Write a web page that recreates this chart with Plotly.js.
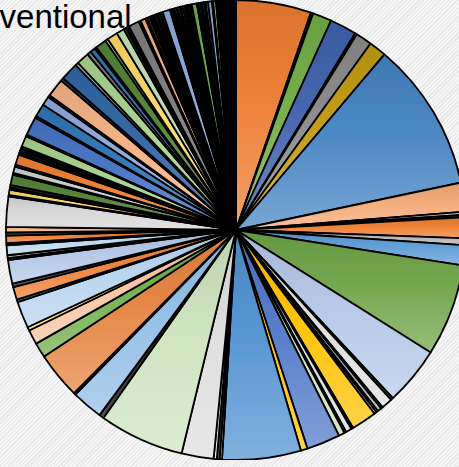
<!DOCTYPE html>
<html>
<head>
<meta charset="utf-8">
<script src="https://cdn.plot.ly/plotly-3.0.1.min.js"></script>
<style>
  html, body { margin: 0; padding: 0; width: 459px; height: 467px; overflow: hidden; }
  body {
    background: repeating-linear-gradient(135deg, #f5f5f5 0px, #f5f5f5 2px, #e6e6e6 2px, #e6e6e6 3px);
  }
  #chart { width: 472px; height: 460px; }
</style>
</head>
<body>
<div id="chart"></div>
<script>
// Slice shares, clockwise from 12 o'clock
const shares = [
  19.0, 0.6, 4.8, 6.8, 0.5, 4.1, 4.4, 37.9, 7.3, 0.8,
  0.6, 5.3, 1.7, 5.1, 23.3, 14.8, 0.6, 2.8, 0.5, 1.0,
  0.5, 0.6, 6.4, 0.5, 1.5, 0.5, 1.5, 8.5, 1.7, 19.9,
  0.6, 0.7, 0.8, 8.1, 21.5, 1.2, 7.9, 0.5, 11.8, 3.8,
  3.7, 0.9, 6.7, 0.7, 3.2, 0.9, 6.0, 0.5, 0.7, 2.5,
  0.5, 1.9, 0.8, 1.4, 7.6, 0.4, 1.3, 0.4, 0.8, 2.6,
  0.5, 1.6, 0.5, 2.6, 0.5, 0.6, 0.6, 0.5, 2.8, 0.4,
  4.7, 0.5, 3.3, 2.3, 0.6, 4.6, 0.8, 4.5, 0.8, 3.2,
  1.0, 1.3, 0.5, 2.8, 0.7, 2.7, 2.0, 0.6, 0.45, 0.45,
  2.7, 0.5, 1.3, 0.5, 0.6,
  0.4, 0.5, 0.4, 0.5, 0.4, 0.5, 0.3, 0.5,
  1.9,
  0.4, 0.4, 0.4,
  0.5, 0.3, 0.5, 0.3, 0.5, 0.5,
  0.4, 0.4, 0.5, 0.5,
  1.3,
  0.4, 0.5, 0.4, 0.5, 0.4, 0.6,
  1.0, 0.3, 0.7,
  0.3, 0.3, 0.3, 0.3, 0.3, 0.3, 0.3, 0.3, 0.3, 0.3, 0.3, 0.3, 0.3, 0.3, 0.3, 0.5
];

const sliceColors = [
  '#ed7d31', '#1a1a1a', '#70ad47', '#3f62ad', '#1a1a1a', '#8a8a8a', '#c29a10', '#4583c2', '#f4aa78', '#c9c9c9',
  '#1a1a1a', '#ed7d31', '#b4b4b4', '#5b9bd5', '#6ea448', '#b4c7e7', '#1a1a1a', '#dcdcdc', '#1a1a1a', '#a5a5a5',
  '#7f7f7f', '#bfbfbf', '#ffc000', '#1a1a1a', '#d9d9d9', '#1a1a1a', '#c5e0b4', '#5078c8', '#ffc000', '#5092d0',
  '#bdd7ee', '#1a1a1a', '#dae3f3', '#dedede', '#cde4be', '#0d0d0d', '#92bde6', '#2f5597', '#e4823e', '#70ad47',
  '#f8c3a0', '#ffd966', '#b7d3ef', '#2f5597', '#ed7d31', '#1a1a1a', '#b4c7e7', '#1a1a1a', '#a5a5a5', '#bdd7ee',
  '#1a1a1a', '#ed7d31', '#1a1a1a', '#f4b183', '#d6d6d6', '#1a1a1a', '#ffd966', '#a9d18e', '#1a1a1a', '#548235',
  '#1a1a1a', '#d0cece', '#1a1a1a', '#ed7d31', '#843c0c', '#1f3864', '#1a1a1a', '#385723', '#a9d18e', '#1a1a1a',
  '#4472c4', '#c55a11', '#2e75b6', '#8faadc', '#1a1a1a', '#f4b183', '#203864', '#2f64a3', '#bfbfbf', '#a9d18e',
  '#7f7f7f', '#2e75b6', '#1a1a1a', '#548235', '#a9d18e', '#ffd966', '#c5e0b4', '#548235', '#1a1a1a', '#262626',
  '#7f7f7f', '#1a1a1a', '#f4b183', '#1a1a1a', '#c55a11',
  '#7f7f7f', '#404040', '#a5a5a5', '#7f7f7f', '#595959', '#c55a11', '#262626', '#a5a5a5',
  '#8faadc',
  '#595959', '#a5a5a5', '#404040',
  '#a5a5a5', '#262626', '#d9d9d9', '#404040', '#a5a5a5', '#7f7f7f',
  '#404040', '#a5a5a5', '#595959', '#262626',
  '#70ad47',
  '#262626', '#a5a5a5', '#404040', '#8faadc', '#262626', '#7f7f7f',
  '#8faadc', '#000000', '#a9d18e',
  '#000000', '#1f3864', '#000000', '#404040', '#000000', '#843c0c', '#000000', '#262626',
  '#000000', '#375623', '#000000', '#7f6000', '#000000', '#1f1f1f', '#000000', '#c55a11'
];

const labels = shares.map((_, i) => 'Source ' + (i + 1));

const titleText = 'Conventional';

function mix(hex, target, t) {
  const n = parseInt(hex.slice(1), 16);
  const r = (n >> 16) & 255, g = (n >> 8) & 255, b = n & 255;
  const m = c => Math.round(c + (target - c) * t);
  return 'rgb(' + m(r) + ',' + m(g) + ',' + m(b) + ')';
}

const trace = {
  type: 'pie',
  labels: labels,
  values: shares,
  sort: false,
  direction: 'clockwise',
  rotation: 0,
  textinfo: 'none',
  hoverinfo: 'none',
  marker: { colors: sliceColors, line: { color: '#000000', width: 1.8 } },
  domain: { x: [0, 1], y: [0, 1] }
};

const layout = {
  width: 472,
  height: 460,
  margin: { l: 0, r: 0, t: 0, b: 0 },
  paper_bgcolor: 'rgba(0,0,0,0)',
  plot_bgcolor: 'rgba(0,0,0,0)',
  showlegend: false,
  annotations: [{
    text: titleText,
    xref: 'paper', yref: 'paper',
    x: 134 / 472, xanchor: 'right',
    y: 1.009, yanchor: 'top',
    showarrow: false,
    font: { family: 'Liberation Sans, Arial, sans-serif', size: 33, color: '#000000' }
  }]
};

Plotly.newPlot('chart', [trace], layout, { staticPlot: true }).then(gd => {
  // Excel-style vertical shading on each slice: deeper top, paler bottom
  const svg = gd.querySelector('.main-svg');
  const ns = 'http://www.w3.org/2000/svg';
  let defs = svg.querySelector('defs');
  if (!defs) { defs = document.createElementNS(ns, 'defs'); svg.insertBefore(defs, svg.firstChild); }
  gd.querySelectorAll('g.slice').forEach(g => {
    const pt = g.__data__;
    const path = g.querySelector('path.surface');
    if (!pt || !path) return;
    const base = sliceColors[pt.i];
    const id = 'shade' + pt.i;
    const grad = document.createElementNS(ns, 'linearGradient');
    grad.setAttribute('id', id);
    grad.setAttribute('x1', '0'); grad.setAttribute('y1', '0');
    grad.setAttribute('x2', '0'); grad.setAttribute('y2', '1');
    [[0, mix(base, 0, 0.08)], [0.45, mix(base, 255, 0.04)], [1, mix(base, 255, 0.28)]].forEach(([o, c]) => {
      const s = document.createElementNS(ns, 'stop');
      s.setAttribute('offset', o);
      s.setAttribute('stop-color', c);
      grad.appendChild(s);
    });
    defs.appendChild(grad);
    path.style.fill = 'url(#' + id + ')';
  });
  // keep the title above the pie
  const ann = gd.querySelector('.annotation');
  if (ann) ann.parentNode.appendChild(ann);
});
</script>
</body>
</html>
